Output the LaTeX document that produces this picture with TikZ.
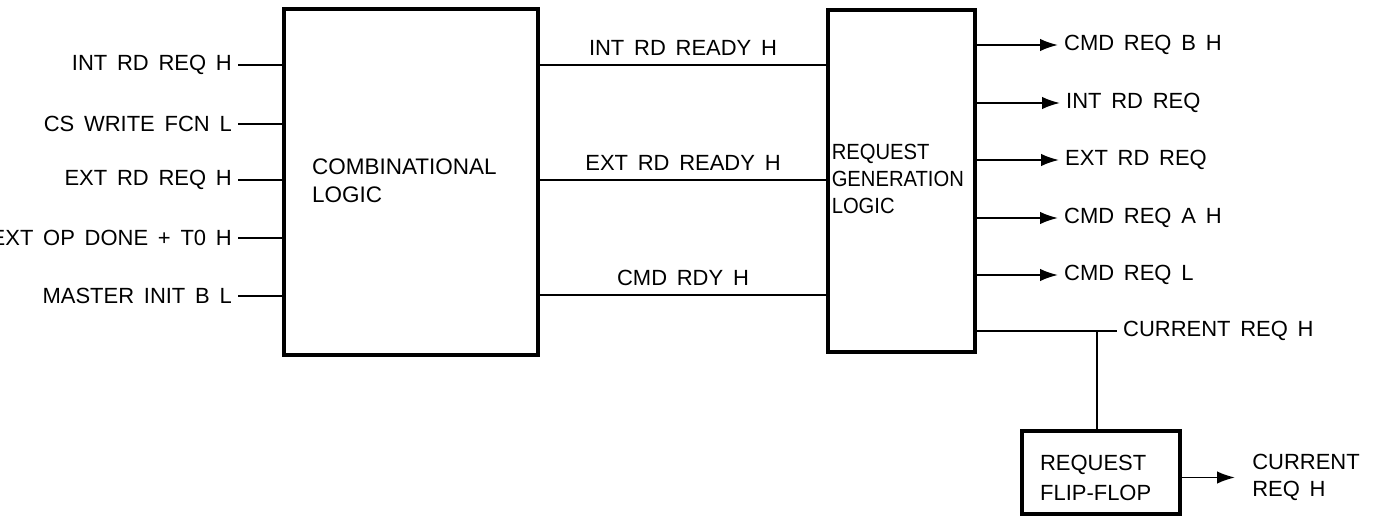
\documentclass[tikz,border=0pt]{standalone}
\usepackage{fontspec}
\setmainfont{Liberation Sans}[WordSpace=1.6]
\usetikzlibrary{arrows.meta}

\begin{document}
\begin{tikzpicture}[every node/.style={font=\fontsize{12.5}{15.5}\selectfont},
        block/.style={draw, line width=1.8pt, inner sep=0pt},
        wire/.style={line width=1.1pt},
        sigout/.style={wire, -{Latex[length=3.6mm,width=2.5mm]}}]
        \useasboundingbox (0,0) rectangle (27.64,10.58);
        % blocks
        \node[block, minimum width=5.08cm, minimum height=6.92cm] (comb) at (8.22,6.94) {};
        \node[block, minimum width=2.94cm, minimum height=6.84cm] (reqgen) at (18.03,6.96) {};
        \node[block, minimum width=3.16cm, minimum height=1.66cm] (reqff) at (22.02,1.13) {};
        \node[anchor=west, align=left, font=\fontsize{12.8}{15.9}\selectfont] (combtext) at ([xshift=0.47cm]comb.west |- 0,6.96) {COMBINATIONAL\\LOGIC};
        \node[anchor=west, align=left, inner xsep=0.05cm, font=\fontsize{12.5}{15.6}\selectfont\addfontfeature{FakeStretch=0.92}] (reqgentext) at ([xshift=0.05cm]reqgen.west |- 0,7.0) {REQUEST\\GENERATION\\LOGIC};
        \node[anchor=west, align=left, font=\fontsize{12.5}{17}\selectfont] (reqfftext) at ([xshift=0.27cm]reqff.west |- 0,1.02) {REQUEST\\FLIP-FLOP};
        % inputs
        \node[anchor=east] (in1) at (4.76,9.28) {INT RD REQ H};
        \node[anchor=east] (in2) at (4.76,8.10) {CS WRITE FCN L};
        \node[anchor=east] (in3) at (4.76,6.98) {EXT RD REQ H};
        \node[anchor=east] (in4) at (4.76,5.82) {EXT OP DONE + T0 H};
        \node[anchor=east] (in5) at (4.76,4.66) {MASTER INIT B L};
        \foreach \i in {1,...,5}
            \draw[wire] (in\i.east) -- (in\i -| comb.west);
        % between the blocks
        \draw[wire] (comb.east |- in1) -- (reqgen.west |- in1) node[midway, above=1.5pt] {INT RD READY H};
        \draw[wire] (comb.east |- in3) -- (reqgen.west |- in3) node[midway, above=1.5pt] {EXT RD READY H};
        \draw[wire] (comb.east |- 0,4.68) -- (reqgen.west |- 0,4.68) node[midway, above=1.5pt] {CMD RDY H};
        % outputs
        \node[anchor=west] (out1) at (21.16,9.68) {CMD REQ B H};
        \node[anchor=west] (out2) at (21.2,8.52) {INT RD REQ};
        \node[anchor=west] (out3) at (21.18,7.38) {EXT RD REQ};
        \node[anchor=west] (out4) at (21.16,6.22) {CMD REQ A H};
        \node[anchor=west] (out5) at (21.16,5.08) {CMD REQ L};
        \foreach \i in {1,...,5}
            \draw[sigout] (reqgen.east |- out\i) -- (out\i.west);
        \node[anchor=west] (cur) at (22.34,3.96) {CURRENT REQ H};
        \draw[wire] (reqgen.east |- cur) -- (cur.west);
        \coordinate (tap) at (21.94,3.96);
        \draw[wire] (tap) -- (tap |- reqff.north);
        \node[anchor=west, align=left, inner xsep=0.34cm] (ffout) at (24.7,1.03) {CURRENT\\REQ H};
        \draw[sigout] (reqff.east |- ffout) -- (ffout.west);
\end{tikzpicture}
\end{document}
